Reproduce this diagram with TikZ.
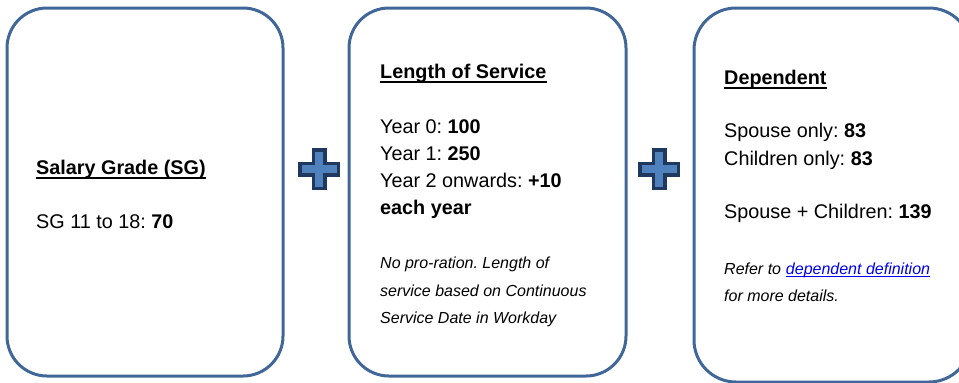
\documentclass[tikz,border=0pt]{standalone}
\usepackage{fontspec}
\setmainfont{Liberation Sans}
\usetikzlibrary{positioning}
\frenchspacing

\definecolor{boxblue}{RGB}{64,103,152}
\definecolor{plusfill}{RGB}{79,129,189}
\definecolor{plusedge}{RGB}{31,56,96}
\definecolor{linkblue}{RGB}{0,0,238}

\tikzset{
    card/.style={draw=boxblue, line width=3pt, fill=white, inner sep=0pt},
    txt/.style={anchor=base west, inner sep=0pt, font=\fontsize{19.8}{27}\selectfont},
    note/.style={anchor=base west, inner sep=0pt, font=\fontsize{16}{27}\selectfont\itshape},
    plusmark/.style={fill=plusfill, draw=plusedge, line width=3.5pt, line join=miter},
    uline/.style={line width=1.8pt}
}

\begin{document}
\begin{tikzpicture}[x=1pt, y=-1pt]
            \clip (0,0) rectangle (959,383);
            \fill[white] (0,0) rectangle (959,383);

            % Cards
            \node[card, rounded corners=40pt, minimum width=276pt, minimum height=368pt] (grade) at (145,192) {};
            \node[card, rounded corners=40pt, minimum width=277pt, minimum height=368pt] (service) at (487.5,192) {};
            \node[card, rounded corners=42pt, minimum width=277pt, minimum height=374pt] (dependent) at (832.5,195) {};

            % Plus signs
            \foreach \cx in {319,659} {
                \draw[plusmark, shift={(\cx,169)}]
                    (-5.75,-19.25) -- (5.75,-19.25) -- (5.75,-5.75) -- (19.25,-5.75)
                    -- (19.25,5.75) -- (5.75,5.75) -- (5.75,19.25) -- (-5.75,19.25)
                    -- (-5.75,5.75) -- (-19.25,5.75) -- (-19.25,-5.75) -- (-5.75,-5.75) -- cycle;
            }

            % Salary grade
            \node[txt] (sgtitle) at (36,174) {\textbf{Salary Grade (SG)}};
            \node[txt] (sgline) at (36,228) {SG 11 to 18: \textbf{70}};
            \draw[uline] ([yshift=-4pt]sgtitle.base west) -- ([yshift=-4pt]sgtitle.base east);

            % Length of service
            \node[txt] (lostitle) at (380,78) {\textbf{Length of Service}};
            \node[txt] (year0) at (380,133) {Year 0: \textbf{100}};
            \node[txt] (year1) at (380,160) {Year 1: \textbf{250}};
            \node[txt] (year2) at (380,187) {Year 2 onwards: \textbf{+10}};
            \node[txt] (yearly) at (380,214) {\textbf{each year}};
            \node[note] (losnote1) at (380,268) {No pro-ration. Length of};
            \node[note] (losnote2) at (380,296) {service based on Continuous};
            \node[note] (losnote3) at (380,323) {Service Date in Workday};
            \draw[uline] ([yshift=-4pt]lostitle.base west) -- ([yshift=-4pt]lostitle.base east);

            % Dependent
            \node[txt] (deptitle) at (724,84) {\textbf{Dependent}};
            \node[txt] (spouse) at (724,137) {Spouse only: \textbf{83}};
            \node[txt] (children) at (724,165) {Children only: \textbf{83}};
            \node[txt] (both) at (724,218) {Spouse + Children: \textbf{139}};
            \node[note] (refer) at (724,274) {Refer to};
            \node[note, text=linkblue, xshift=4.45pt] (deflink) at (refer.base east) {dependent definition};
            \node[note] (details) at (724,301) {for more details.};
            \draw[uline] ([yshift=-4pt]deptitle.base west) -- ([yshift=-4pt]deptitle.base east);
            \draw[linkblue, line width=1pt] ([yshift=-2.5pt]deflink.base west) -- ([yshift=-2.5pt]deflink.base east);
\end{tikzpicture}
\end{document}
